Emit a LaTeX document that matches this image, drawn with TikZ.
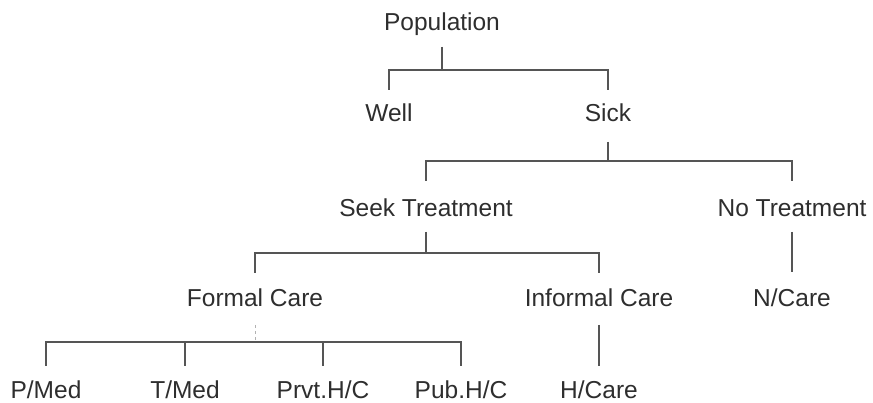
\documentclass[tikz,border=0pt]{standalone}
\usepackage{fontspec}
\setmainfont{Liberation Sans}
\definecolor{inkc}{HTML}{2E2E2E}
\definecolor{linec}{HTML}{555555}
\begin{document}
\begin{tikzpicture}[x=1pt,y=-1pt,
  lbl/.style={anchor=base,inner sep=0pt,outer sep=0pt,text height=18pt,text depth=5pt,
    text=inkc,font=\fontsize{24.5}{29}\selectfont},
  link/.style={draw=linec,line width=1.4pt,shorten <=12pt,shorten >=15pt},
  faint/.style={draw=linec!45,line width=0.9pt,dashed,shorten <=13pt,shorten >=15pt}]
\useasboundingbox (0,0) rectangle (873,403);
% nodes
\node[lbl] (pop) at (442,31) {Population};
\node[lbl] (well) at (389,122) {Well};
\node[lbl] (sick) at (608,122) {Sick};
\node[lbl] (seek) at (426,217) {Seek Treatment};
\node[lbl] (notr) at (792,217) {No Treatment};
\node[lbl] (formal) at (255,307) {Formal Care};
\node[lbl] (informal) at (599,307) {Informal Care};
\node[lbl] (ncare) at (792,307) {N/Care};
\node[lbl] (pmed) at (46,398) {P/Med};
\node[lbl] (tmed) at (185,398) {T/Med};
\node[lbl] (prvt) at (323,398) {Prvt.H/C};
\node[lbl] (pub) at (461,398) {Pub.H/C};
\node[lbl] (hcare) at (599,398) {H/Care};
% connectors
\draw[link,shorten <=11pt,shorten >=14pt] (pop.south) -- (pop.south |- 0,70) -| (well.north);
\draw[link,shorten <=11pt,shorten >=14pt] (pop.south) -- (pop.south |- 0,70) -| (sick.north);
\draw[link,shorten <=15pt,shorten >=18pt] (sick.south) -- (sick.south |- 0,161) -| (seek.north);
\draw[link,shorten <=15pt,shorten >=18pt] (sick.south) -- (sick.south |- 0,161) -| (notr.north);
\draw[link,shorten <=10pt,shorten >=16pt] (seek.south) -- (seek.south |- 0,253) -| (formal.north);
\draw[link,shorten <=10pt,shorten >=16pt] (seek.south) -- (seek.south |- 0,253) -| (informal.north);
\draw[link,shorten <=10pt,shorten >=17pt] (notr.south) -- (ncare.north);
\draw[link,shorten <=13pt,shorten >=14pt] (informal.south) -- (hcare.north);
\draw[faint,shorten >=0pt] (formal.south) -- (formal.south |- 0,342);
\draw[link,shorten <=0pt,shorten >=14pt] (formal.south |- 0,342) -| (pmed.north);
\draw[link,shorten <=0pt,shorten >=14pt] (formal.south |- 0,342) -| (tmed.north);
\draw[link,shorten <=0pt,shorten >=14pt] (formal.south |- 0,342) -| (prvt.north);
\draw[link,shorten <=0pt,shorten >=14pt] (formal.south |- 0,342) -| (pub.north);
\end{tikzpicture}
\end{document}
